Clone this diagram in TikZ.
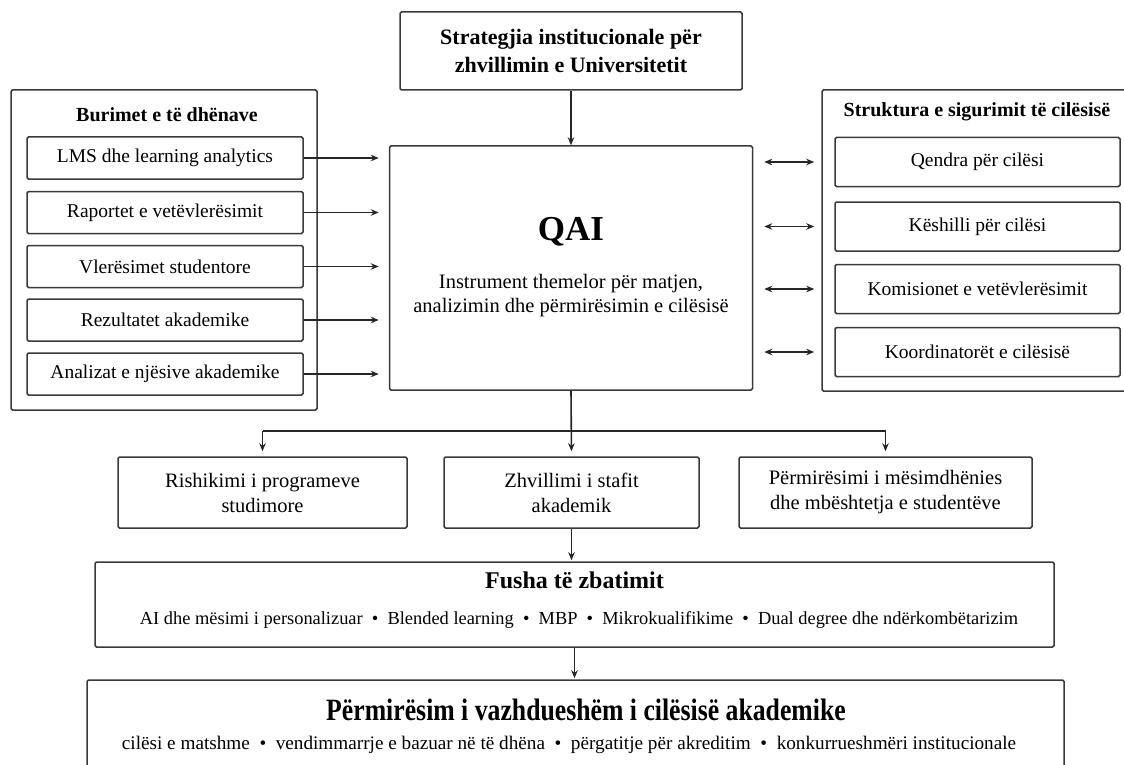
\documentclass[tikz,border=0pt]{standalone}
\usepackage{fontspec}
\setmainfont{Liberation Serif}
\newfontfamily\condserif[FakeStretch=0.83]{Liberation Serif}
\usetikzlibrary{arrows.meta}
\definecolor{boxc}{HTML}{3A3A3A}
\definecolor{linec}{HTML}{262626}
\begin{document}
\begin{tikzpicture}[x=1pt,y=-1pt,
  box/.style={draw=boxc, line width=1.5pt, rounded corners=1.5pt, align=center, inner sep=0pt, fill=white},
  lbl/.style={font=\fontsize{19.5}{25}\selectfont, align=center},
  mlbl/.style={font=\fontsize{20.5}{25}\selectfont, align=center},
  ttl/.style={font=\bfseries\fontsize{20}{25}\selectfont, align=center},
  conn/.style={draw=linec, line width=1.6pt, -{Stealth[length=8pt,width=6.5pt]}},
  dconn/.style={draw=linec, line width=1.6pt, {Stealth[length=8pt,width=6.5pt]}-{Stealth[length=8pt,width=6.5pt]}},
  plain/.style={draw=linec, line width=1.6pt}]
\useasboundingbox (0,0) rectangle (1124,765);
\clip (0,0) rectangle (1124,765);

% top strategy box
\node[box, minimum width=342pt, minimum height=78pt, font=\bfseries\fontsize{22}{28}\selectfont] (strat) at (571,51) {Strategjia institucionale për\\zhvillimin e Universitetit};

% QAI box
\node[box, minimum width=363pt, minimum height=244pt] (qai) at (571,268) {};
\node[font=\bfseries\fontsize{35}{40}\selectfont] (qaititle) at (571,232) {QAI};
\node[align=center, font=\fontsize{20.5}{24}\selectfont] (qaisub) at (571,296) {Instrument themelor për matjen,\\analizimin dhe përmirësimin e cilësisë};

% left group
\node[box, minimum width=306pt, minimum height=320pt] (lout) at (164,250) {};
\node[ttl] (ltitle) at (167,115) {Burimet e të dhënave};
\node[box, lbl, minimum width=276pt, minimum height=42pt] (l1) at (165,158) {LMS dhe learning analytics};
\node[box, lbl, minimum width=276pt, minimum height=42pt] (l2) at (165,212.5) {Raportet e vetëvlerësimit};
\node[box, lbl, minimum width=276pt, minimum height=42pt] (l3) at (165,266.5) {Vlerësimet studentore};
\node[box, lbl, minimum width=276pt, minimum height=42pt] (l4) at (165,320) {Rezultatet akademike};
\node[box, lbl, minimum width=276pt, minimum height=42pt] (l5) at (165,374) {Analizat e njësive akademike};

% right group
\node[box, minimum width=313pt, minimum height=301pt] (rout) at (978.5,240.5) {};
\node[ttl] (rtitle) at (977,112) {Struktura e sigurimit të cilësisë};
\node[box, lbl, minimum width=285pt, minimum height=49pt] (r1) at (977.5,162) {Qendra për cilësi};
\node[box, lbl, minimum width=285pt, minimum height=49pt] (r2) at (977.5,226.5) {Këshilli për cilësi};
\node[box, lbl, minimum width=285pt, minimum height=49pt] (r3) at (977.5,289) {Komisionet e vetëvlerësimit};
\node[box, lbl, minimum width=285pt, minimum height=49pt] (r4) at (977.5,352) {Koordinatorët e cilësisë};

% middle row
\node[box, mlbl, minimum width=289pt, minimum height=71pt] (m1) at (262.5,492.5) {Rishikimi i programeve\\studimore};
\node[box, mlbl, minimum width=255pt, minimum height=71pt] (m2) at (571.5,492.5) {Zhvillimi i stafit\\akademik};
\node[box, mlbl, minimum width=293pt, minimum height=71pt] (m3) at (885.5,492.5) {Përmirësimi i mësimdhënies\\dhe mbështetja e studentëve};

% Fusha box
\node[box, minimum width=959pt, minimum height=85pt] (fusha) at (574.5,604.5) {};
\node[font=\bfseries\fontsize{24}{28}\selectfont] (fushat) at (574.5,580) {Fusha të zbatimit};
\node[font=\fontsize{18.4}{22}\selectfont] (fushai) at (579,620) {AI dhe mësimi i personalizuar \ • \ Blended learning \ • \ MBP \ • \ Mikrokualifikime \ • \ Dual degree dhe ndërkombëtarizim};

% Final box
\node[box, minimum width=977pt, minimum height=120pt] (final) at (575.5,740) {};
\node[font=\condserif\bfseries\fontsize{31}{36}\selectfont] (finalt) at (586,710) {Përmirësim i vazhdueshëm i cilësisë akademike};
\node[font=\fontsize{19.2}{22}\selectfont] (finali) at (569,745) {cilësi e matshme \ • \ vendimmarrje e bazuar në të dhëna \ • \ përgatitje për akreditim \ • \ konkurrueshmëri institucionale};

% connectors
\draw[conn] (strat.south) -- (qai.north);
\foreach \n in {l1,l2,l3,l4,l5}
  \draw[conn, shorten >=10pt] (\n.east) -- (\n.east -| qai.west);
\foreach \n in {r1,r2,r3,r4}
  \draw[dconn, shorten <=11pt, shorten >=20pt] (\n.west -| qai.east) -- (\n.west);

\coordinate (br) at (571,431);
\draw[plain] (br -| m1.north) -- (br -| m3.north);
\draw[conn, shorten >=5pt] (qai.south) -- (m2.north);
\draw[conn, shorten >=5pt] (br -| m1.north) -- (m1.north);
\draw[conn, shorten >=5pt] (br -| m3.north) -- (m3.north);
\draw[conn, shorten >=1pt] (m2.south) -- (m2.south |- fusha.north);
\draw[conn, shorten >=1pt] (fusha.south) -- (fusha.south |- final.north);
\end{tikzpicture}
\end{document}
